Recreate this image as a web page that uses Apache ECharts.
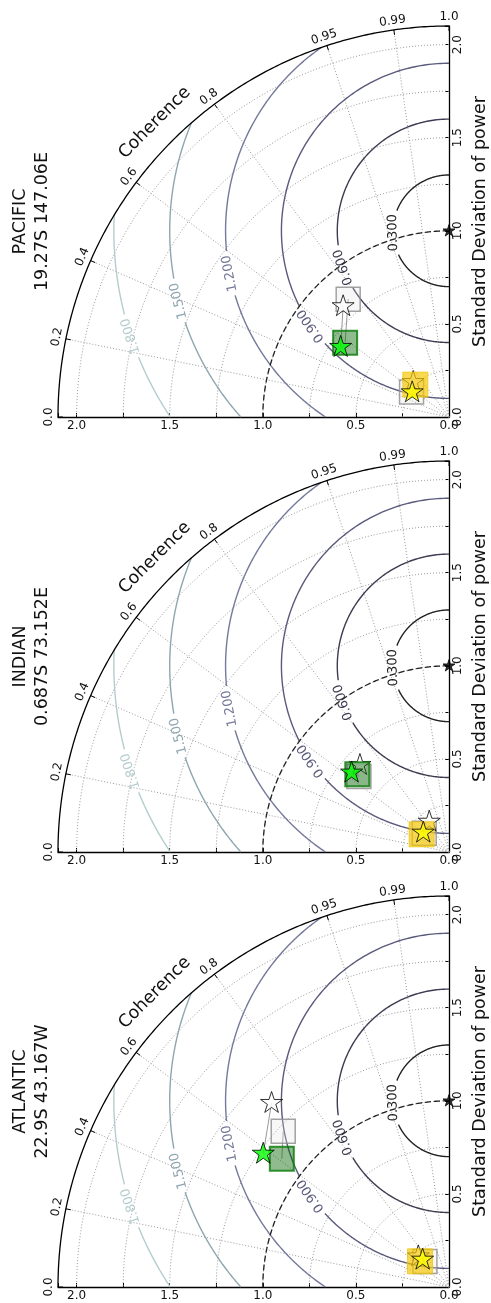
<!DOCTYPE html>
<html>
<head>
<meta charset="utf-8">
<script src="https://cdn.jsdelivr.net/npm/echarts@6/dist/echarts.min.js"></script>
<style>
  html, body { margin: 0; padding: 0; background: #fff; }
  #chart { width: 491px; height: 1303px; }
</style>
</head>
<body>
<div id="chart"></div>
<script>
// ---- data -------------------------------------------------------------
// Regions (one Taylor panel each) and their locations
const regions = ['PACIFIC', 'INDIAN', 'ATLANTIC'];
const locations = ['19.27S 147.06E', '0.687S 73.152E', '22.9S 43.167W'];

// Centred RMS difference contour levels
const rmsLevels = [0.3, 0.6, 0.9, 1.2, 1.5, 1.8];
// Coherence ticks along the outer arc
const coherenceTicks = [0, 0.2, 0.4, 0.6, 0.8, 0.95, 0.99, 1.0];
// Labelled standard deviation ticks
const stdTicks = [0, 0.5, 1.0, 1.5, 2.0];

// Reference point (normalised standard deviation, coherence)
const refStd = 1.0;
const refCoh = 1.0;

// Green band, filled markers
const greenStarStd = [0.693, 0.675, 1.228];
const greenStarCoh = [0.543, 0.632, 0.583];
const greenSquareStd = [0.686, 0.646, 1.132];
const greenSquareCoh = [0.582, 0.647, 0.609];
// Green band, open markers
const greenOpenStarStd = [0.823, 0.669, 1.373];
const greenOpenStarCoh = [0.723, 0.699, 0.720];
const greenOpenSquareStd = [0.833, 0.631, 1.222];
const greenOpenSquareCoh = [0.760, 0.642, 0.685];

// Yellow band, filled markers
const yellowStarStd = [0.238, 0.173, 0.204];
const yellowStarCoh = [0.557, 0.601, 0.720];
const yellowSquareStd = [0.251, 0.175, 0.208];
const yellowSquareCoh = [0.693, 0.543, 0.663];
// Yellow band, open markers
const yellowOpenStarStd = [0.269, 0.194, 0.233];
const yellowOpenStarCoh = [0.699, 0.838, 0.707];
const yellowOpenSquareStd = [0.242, 0.167, 0.188];
const yellowOpenSquareCoh = [0.556, 0.603, 0.726];

// ---- layout & style ---------------------------------------------------
const STD_MAX = 2.1;
const ORIGIN_X = 449;
const ORIGIN_Y = [417, 852, 1287];
const SIZE = 391;
const FONT = 'DejaVu Sans';
const GRID_COLOR = '#9a9a9a';
const contourColors = ['#222226', '#3c3c52', '#5a5a7c', '#75799a', '#8fa6b0', '#b5cdcd'];
// where each contour label sits: degrees below the horizontal through the reference
const contourLabelAngles = [2, 19, 34.5, 11, 14.5, 18.3];

// (std, coherence) -> (horizontal, vertical) in axis units
function toXY(std, coh) {
  return [std * Math.sqrt(Math.max(0, 1 - coh * coh)), std * coh];
}

// five-pointed star like the matplotlib '*' marker
function starPath() {
  const pts = [];
  for (let i = 0; i < 10; i++) {
    const a = Math.PI / 2 + i * Math.PI / 5;
    const r = i % 2 === 0 ? 1 : 0.381966;
    pts.push((r * Math.cos(a)).toFixed(4) + ',' + (-r * Math.sin(a)).toFixed(4));
  }
  return 'path://M' + pts.join('L') + 'Z';
}
const STAR = starPath();

// ---- frame: grid arcs, rays, RMS contours, coherence axis --------------
function renderFrame(params, api) {
  const children = [];
  const O = api.coord([0, 0]);
  const s = O[0] - api.coord([1, 0])[0];
  const polar = (rPx, th) => [O[0] - rPx * Math.sin(th), O[1] - rPx * Math.cos(th)];
  const arc = (r, th0, th1, n) => {
    const pts = [];
    for (let k = 0; k <= n; k++) {
      const th = th0 + (th1 - th0) * k / n;
      pts.push(api.coord([r * Math.sin(th), r * Math.cos(th)]));
    }
    return pts;
  };

  // dotted standard-deviation arcs
  for (let k = 1; k * 0.25 <= 2.0 + 1e-9; k++) {
    children.push({
      type: 'polyline', shape: { points: arc(k * 0.25, 0, Math.PI / 2, 120) },
      style: { stroke: GRID_COLOR, lineWidth: 1, lineDash: [1, 2], fill: 'none' }
    });
  }
  // dotted coherence rays
  coherenceTicks.forEach(c => {
    if (c <= 0 || c >= 1) return;
    const th = Math.acos(c);
    const p = polar(STD_MAX * s, th);
    children.push({
      type: 'line', shape: { x1: O[0], y1: O[1], x2: p[0], y2: p[1] },
      style: { stroke: GRID_COLOR, lineWidth: 1, lineDash: [1, 2] }
    });
  });

  // RMS difference contours around the reference point
  rmsLevels.forEach((r, i) => {
    const color = contourColors[i];
    const lo = r > refStd ? Math.asin(-refStd / r) : -Math.PI / 2;
    const up = (STD_MAX * STD_MAX - refStd * refStd - r * r) / (2 * r * refStd);
    const hi = up < 1 ? Math.asin(up) : Math.PI / 2;
    const phiL = -contourLabelAngles[i] * Math.PI / 180;
    const fs = 13;
    const textW = fs * 2.862;
    const half = (textW / 2 + 4) / (r * s);
    const pt = phi => api.coord([r * Math.cos(phi), refStd + r * Math.sin(phi)]);
    [[lo, phiL - half], [phiL + half, hi]].forEach(seg => {
      if (seg[1] <= seg[0]) return;
      const pts = [];
      const n = 120;
      for (let k = 0; k <= n; k++) pts.push(pt(seg[0] + (seg[1] - seg[0]) * k / n));
      children.push({
        type: 'polyline', shape: { points: pts },
        style: { stroke: color, lineWidth: 1.4, fill: 'none' }
      });
    });
    const lp = pt(phiL);
    children.push({
      type: 'text', x: lp[0], y: lp[1],
      rotation: Math.PI / 2 + contourLabelAngles[i] * Math.PI / 180,
      style: {
        text: r.toFixed(3), fill: color, fontSize: fs, fontFamily: FONT,
        align: 'center', verticalAlign: 'middle'
      }
    });
  });

  // dashed arc through the reference standard deviation
  children.push({
    type: 'polyline', shape: { points: arc(refStd, 0, Math.PI / 2, 160) },
    style: { stroke: '#222', lineWidth: 1.3, lineDash: [6, 3], fill: 'none' }
  });
  // outer coherence axis
  children.push({
    type: 'polyline', shape: { points: arc(STD_MAX, 0, Math.PI / 2, 200) },
    style: { stroke: '#000', lineWidth: 1.3, fill: 'none' }
  });
  coherenceTicks.forEach(c => {
    const th = Math.acos(c);
    const a = polar(STD_MAX * s, th), b = polar(STD_MAX * s - 5, th);
    children.push({
      type: 'line', shape: { x1: a[0], y1: a[1], x2: b[0], y2: b[1] },
      style: { stroke: '#000', lineWidth: 1 }
    });
    const lp = polar(STD_MAX * s + 9, th);
    children.push({
      type: 'text', x: lp[0], y: lp[1], rotation: th,
      style: {
        text: (c === 0 || c === 1) ? c.toFixed(1) : String(c),
        fill: '#111', fontSize: 12, fontFamily: FONT,
        align: 'center', verticalAlign: 'middle'
      }
    });
  });
  const np = polar(STD_MAX * s + 25, Math.PI / 4);
  children.push({
    type: 'text', x: np[0], y: np[1], rotation: Math.PI / 4,
    style: {
      text: 'Coherence', fill: '#111', fontSize: 17.5, fontFamily: FONT,
      align: 'center', verticalAlign: 'middle'
    }
  });
  return { type: 'group', children };
}

// thin links from open markers to their filled counterparts
function renderLink(params, api) {
  const a = api.coord([api.value(0), api.value(1)]);
  const b = api.coord([api.value(2), api.value(3)]);
  return {
    type: 'line', shape: { x1: a[0], y1: a[1], x2: b[0], y2: b[1] },
    style: { stroke: '#9a9a9a', lineWidth: 1 }
  };
}

const grids = [], xAxes = [], yAxes = [], series = [], graphics = [];
const tickFormatter = v => stdTicks.some(t => Math.abs(t - v) < 1e-6) ? v.toFixed(1) : '';

regions.forEach((region, i) => {
  grids.push({
    left: ORIGIN_X - SIZE, top: ORIGIN_Y[i] - SIZE, width: SIZE, height: SIZE,
    outerBoundsMode: 'none', containLabel: false
  });
  xAxes.push({
    gridIndex: i, type: 'value', min: 0, max: STD_MAX, interval: 0.25,
    inverse: true, position: 'bottom',
    axisLine: { onZero: false, lineStyle: { color: '#000', width: 1.3 } },
    axisTick: { inside: true, length: 4, lineStyle: { color: '#000' } },
    axisLabel: { formatter: tickFormatter, color: '#111', fontSize: 12, fontFamily: FONT, margin: 3 },
    splitLine: { show: false }
  });
  yAxes.push({
    gridIndex: i, type: 'value', min: 0, max: STD_MAX, interval: 0.25,
    position: 'right',
    name: 'Standard Deviation of power', nameLocation: 'middle', nameGap: 15, nameRotate: 90,
    nameTextStyle: { color: '#111', fontSize: 17.5, fontFamily: FONT },
    axisLine: { onZero: false, lineStyle: { color: '#000', width: 1.3 } },
    axisTick: { inside: true, length: 4, lineStyle: { color: '#000' } },
    axisLabel: { formatter: tickFormatter, rotate: 90, color: '#111', fontSize: 12, fontFamily: FONT, margin: 3 },
    splitLine: { show: false }
  });

  series.push({
    type: 'custom', coordinateSystem: 'cartesian2d', xAxisIndex: i, yAxisIndex: i,
    data: [[0, 0]], clip: false, silent: true, z: 1, renderItem: renderFrame
  });

  const link = (s1, c1, s2, c2) => toXY(s1[i], c1[i]).concat(toXY(s2[i], c2[i]));
  series.push({
    type: 'custom', coordinateSystem: 'cartesian2d', xAxisIndex: i, yAxisIndex: i,
    silent: true, z: 2, renderItem: renderLink,
    data: [
      link(greenOpenStarStd, greenOpenStarCoh, greenStarStd, greenStarCoh),
      link(greenOpenSquareStd, greenOpenSquareCoh, greenSquareStd, greenSquareCoh),
      link(yellowOpenStarStd, yellowOpenStarCoh, yellowStarStd, yellowStarCoh),
      link(yellowOpenSquareStd, yellowOpenSquareCoh, yellowSquareStd, yellowSquareCoh)
    ]
  });

  const marker = (stdArr, cohArr, opts) => Object.assign({
    type: 'scatter', xAxisIndex: i, yAxisIndex: i, silent: true, z: 3,
    data: [toXY(stdArr[i], cohArr[i])]
  }, opts);
  const openSquare = {
    symbol: 'rect', symbolSize: 24,
    itemStyle: { color: 'rgba(225,225,225,0.35)', borderColor: '#8c8c8c', borderWidth: 1.5 }
  };
  const openStar = {
    symbol: STAR, symbolSize: 22, symbolKeepAspect: true, symbolOffset: [0, -1],
    itemStyle: { color: '#ffffff', borderColor: '#000', borderWidth: 1 }
  };
  series.push(marker(greenOpenSquareStd, greenOpenSquareCoh, openSquare));
  series.push(marker(yellowOpenSquareStd, yellowOpenSquareCoh, openSquare));
  series.push(marker(greenOpenStarStd, greenOpenStarCoh, openStar));
  series.push(marker(yellowOpenStarStd, yellowOpenStarCoh, openStar));
  series.push(marker(greenSquareStd, greenSquareCoh, {
    symbol: 'rect', symbolSize: 24,
    itemStyle: { color: 'rgba(0,100,0,0.55)', borderColor: '#067a06', borderWidth: 2 }
  }));
  series.push(marker(yellowSquareStd, yellowSquareCoh, {
    symbol: 'rect', symbolSize: 25,
    itemStyle: { color: 'rgba(245,200,0,0.85)', borderColor: 'rgba(240,196,0,0.9)', borderWidth: 1 }
  }));
  series.push(marker(greenStarStd, greenStarCoh, {
    symbol: STAR, symbolSize: 22, symbolKeepAspect: true, symbolOffset: [0, -1],
    itemStyle: { color: '#00ff00', borderColor: '#000', borderWidth: 1 }
  }));
  series.push(marker(yellowStarStd, yellowStarCoh, {
    symbol: STAR, symbolSize: 22, symbolKeepAspect: true, symbolOffset: [0, -1],
    itemStyle: { color: '#ffff00', borderColor: '#000', borderWidth: 1 }
  }));
  // reference
  series.push({
    type: 'scatter', xAxisIndex: i, yAxisIndex: i, silent: true, z: 4,
    data: [toXY(refStd, refCoh)],
    symbol: STAR, symbolSize: 12, symbolKeepAspect: true, symbolOffset: [0, -0.5],
    itemStyle: { color: '#000', borderColor: '#000', borderWidth: 1 }
  });

  // panel title, written along the left side
  graphics.push({
    type: 'text', x: 31, y: ORIGIN_Y[i] - SIZE / 2, rotation: Math.PI / 2,
    style: {
      text: region + '\n' + locations[i], fill: '#111', fontSize: 17.5, fontFamily: FONT,
      lineHeight: 22, align: 'center', verticalAlign: 'middle'
    }
  });
});

const chart = echarts.init(document.getElementById('chart'), null, { renderer: 'canvas', width: 491, height: 1303 });
chart.setOption({
  animation: false,
  backgroundColor: '#ffffff',
  grid: grids,
  xAxis: xAxes,
  yAxis: yAxes,
  series: series,
  graphic: graphics
});
</script>
</body>
</html>
